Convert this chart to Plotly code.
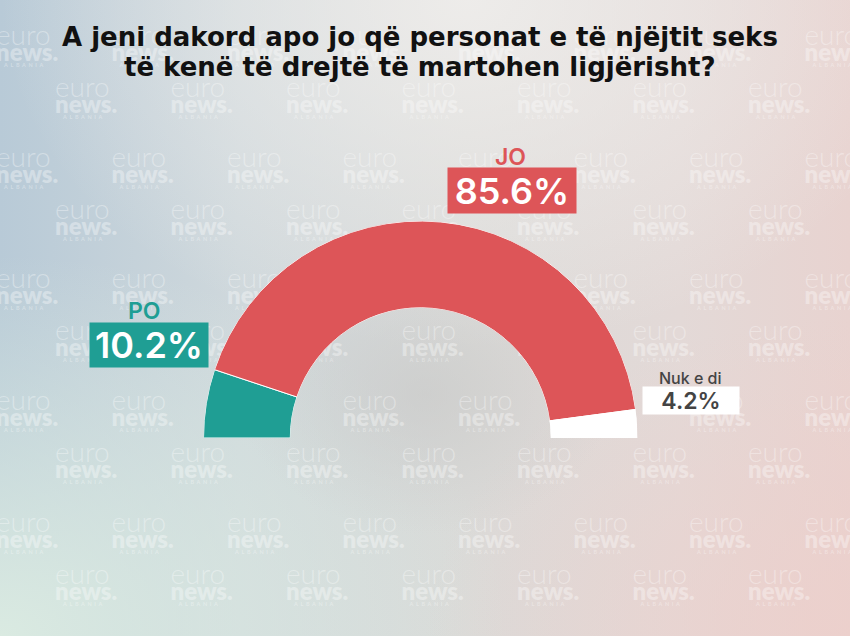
import base64
import numpy as np
import plotly.graph_objects as go

# ---------------- data ----------------
categories = ["PO", "JO", "Nuk e di"]
values = [10.2, 85.6, 4.2]
value_labels = ["10.2%", "85.6%", "4.2%"]
title_lines = ["A jeni dakord apo jo që personat e të njëjtit seks",
               "të kenë të drejtë të martohen ligjërisht?"]

# ---------------- styles ----------------
seg_colors = ["#1f9e94", "#dd5558", "#ffffff"]
W, H = 850, 636

# half-donut geometry via polar barpolar (data -> angles)
span = 180.0
vals = np.array(values, dtype=float)
widths = vals / vals.sum() * span
starts = np.concatenate([[0], np.cumsum(widths)[:-1]])
centers = starts + widths / 2

fig = go.Figure()

# ---------- half donut ----------
fig.add_trace(go.Barpolar(
    r=[1] * len(values), theta=centers, width=widths, base=0,
    marker=dict(color=seg_colors, line=dict(color="white", width=1)),
    text=categories, hoverinfo="text", showlegend=False,
))

# ---------- background image: gradient + logo watermark ----------
wm = []
for i in range(6):
    T = 31 + 121.7 * i
    for base, TT in ((-4, T), (55, T + 52)):
        for k in range(9):
            x = base + 115.5 * k
            if -60 < x < W + 5 and TT < H + 10:
                wm.append(
                    f'<text x="{x:.1f}" y="{TT + 14:.1f}" font-family="Lato" font-weight="300" font-size="28">euro</text>'
                    f'<text x="{x:.1f}" y="{TT + 30:.1f}" font-family="Lato" font-weight="800" font-size="24">news.</text>'
                    f'<text x="{x + 29:.1f}" y="{TT + 36:.1f}" font-family="Lato" font-weight="700" font-size="5.5" '
                    f'letter-spacing="2.6" text-anchor="middle">ALBANIA</text>'
                )

svg = f'''<svg xmlns="http://www.w3.org/2000/svg" width="{W}" height="{H}" viewBox="0 0 {W} {H}" preserveAspectRatio="none">
<defs>
<linearGradient id="g0" x1="0" y1="0" x2="1" y2="0">
<stop offset="0" stop-color="#b8cad7"/>
<stop offset="0.28" stop-color="#cfd8dc"/>
<stop offset="0.55" stop-color="#dadad8"/>
<stop offset="0.8" stop-color="#e3d9d7"/>
<stop offset="1" stop-color="#e8d3d0"/>
</linearGradient>
<radialGradient id="g1" cx="0.55" cy="0.0" r="0.55">
<stop offset="0" stop-color="#f1efed" stop-opacity="0.85"/>
<stop offset="1" stop-color="#f1efed" stop-opacity="0"/>
</radialGradient>
<radialGradient id="g2" cx="0.0" cy="1.0" r="0.6">
<stop offset="0" stop-color="#dcece2" stop-opacity="0.95"/>
<stop offset="1" stop-color="#dcece2" stop-opacity="0"/>
</radialGradient>
<radialGradient id="g3" cx="1.0" cy="1.0" r="0.5">
<stop offset="0" stop-color="#edcfcb" stop-opacity="0.8"/>
<stop offset="1" stop-color="#edcfcb" stop-opacity="0"/>
</radialGradient>
<radialGradient id="g4" cx="0.5" cy="0.62" r="0.22">
<stop offset="0" stop-color="#c6c6c5" stop-opacity="0.55"/>
<stop offset="1" stop-color="#c6c6c5" stop-opacity="0"/>
</radialGradient>
</defs>
<rect width="{W}" height="{H}" fill="url(#g0)"/>
<rect width="{W}" height="{H}" fill="url(#g1)"/>
<rect width="{W}" height="{H}" fill="url(#g2)"/>
<rect width="{W}" height="{H}" fill="url(#g3)"/>
<rect width="{W}" height="{H}" fill="url(#g4)"/>
<g fill="#ffffff" fill-opacity="0.34">{''.join(wm)}</g>
</svg>'''
src = "data:image/svg+xml;base64," + base64.b64encode(svg.encode()).decode()

# ---------- labels ----------
def px(x):
    return x / W

def py(y):
    return 1 - y / H

title_font = dict(family="DejaVu Sans", size=26, color="#111111", weight=700)
annotations = [
    dict(text=title_lines[0], x=px(420), y=py(37), font=title_font),
    dict(text=title_lines[1], x=px(420), y=py(67), font=title_font),
    dict(text=categories[0], x=px(144), y=py(311), font=dict(family="Inter", size=23, color=seg_colors[0], weight=600)),
    dict(text=value_labels[0], x=px(149), y=py(345), font=dict(family="Inter", size=36, color="white", weight=600),
         bgcolor=seg_colors[0], width=118, height=44, borderpad=0),
    dict(text=categories[1], x=px(510), y=py(157), font=dict(family="Inter", size=23, color=seg_colors[1], weight=600)),
    dict(text=value_labels[1], x=px(512), y=py(190.5), font=dict(family="Inter", size=36, color="white", weight=600),
         bgcolor=seg_colors[1], width=128, height=45, borderpad=0),
    dict(text=categories[2], x=px(690), y=py(378), font=dict(family="Inter", size=16, color="#444444", weight=500)),
    dict(text=value_labels[2], x=px(691), y=py(400.5), font=dict(family="Inter", size=23, color="#444444", weight=600),
         bgcolor="#ffffff", width=96, height=27, borderpad=0),
]
for a in annotations:
    a.update(xref="paper", yref="paper", showarrow=False, xanchor="center", yanchor="middle")

fig.update_layout(
    width=W, height=H,
    margin=dict(l=0, r=0, t=0, b=0),
    paper_bgcolor="#d8dcdc",
    plot_bgcolor="rgba(0,0,0,0)",
    images=[dict(source=src, xref="paper", yref="paper", x=0, y=1, sizex=1, sizey=1,
                 sizing="stretch", layer="below", xanchor="left", yanchor="top")],
    polar=dict(
        domain=dict(x=[203 / W, 638 / W], y=[1 - 438 / H, 1 - 221 / H]),
        sector=[0, 180],
        hole=0.6,
        bgcolor="rgba(0,0,0,0)",
        bargap=0,
        radialaxis=dict(visible=False, range=[0, 1]),
        angularaxis=dict(visible=False, rotation=180, direction="clockwise"),
    ),
    annotations=annotations,
    showlegend=False,
)

fig.write_html("out.html")
